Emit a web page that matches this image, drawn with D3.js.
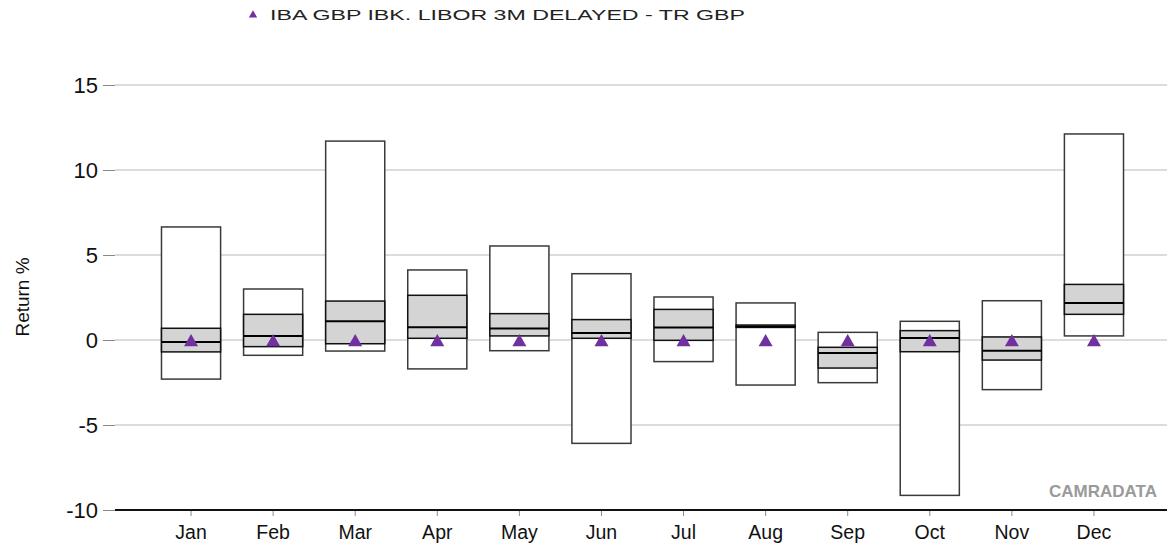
<!DOCTYPE html>
<html>
<head>
<meta charset="utf-8">
<script src="https://cdnjs.cloudflare.com/ajax/libs/d3/7.8.5/d3.min.js"></script>
<style>
  body { margin: 0; background: #fff; }
  text { font-family: "Liberation Sans", Arial, sans-serif; }
</style>
</head>
<body>
<div id="chart"></div>
<script>
// monthly return ranges (%)
var months = ["Jan", "Feb", "Mar", "Apr", "May", "Jun", "Jul", "Aug", "Sep", "Oct", "Nov", "Dec"];
var maxVals    = [6.65, 3.0, 11.7, 4.12, 5.53, 3.9, 2.53, 2.18, 0.45, 1.1, 2.31, 12.12];
var upperQ     = [0.69, 1.51, 2.29, 2.63, 1.55, 1.2, 1.8, 0.88, -0.43, 0.55, 0.18, 3.27];
var medians    = [-0.12, 0.24, 1.1, 0.75, 0.67, 0.41, 0.73, 0.8, -0.77, 0.12, -0.63, 2.18];
var lowerQ     = [-0.7, -0.39, -0.22, 0.1, 0.24, 0.1, -0.02, 0.74, -1.65, -0.69, -1.18, 1.51];
var minVals    = [-2.3, -0.9, -0.65, -1.7, -0.63, -6.08, -1.27, -2.65, -2.51, -9.14, -2.92, 0.24];
var libor      = [0.02, 0.02, 0.02, 0.02, 0.02, 0.02, 0.02, 0.02, 0.02, 0.02, 0.02, 0.02];
var yTicks = [-10, -5, 0, 5, 10, 15];
var seriesName = "IBA GBP IBK. LIBOR 3M DELAYED - TR GBP";

var width = 1167, height = 548;
var plotLeft = 115, plotRight = 1167;

var svg = d3.select("#chart")
    .append("svg")
    .attr("width", width)
    .attr("height", height);

var x = d3.scaleBand()
    .domain(months)
    .range([150, 1135])
    .paddingInner(0.28)
    .paddingOuter(0.14);

var y = d3.scaleLinear()
    .domain([-10, 15])
    .range([510, 85]);

// gridlines
svg.append("g")
    .selectAll("line")
    .data(yTicks.filter(function(d) { return d > -10; }))
    .enter()
    .append("line")
    .attr("x1", plotLeft)
    .attr("x2", plotRight)
    .attr("y1", function(d) { return y(d); })
    .attr("y2", function(d) { return y(d); })
    .attr("stroke", "#dcdcdc")
    .attr("stroke-width", 2);

// y axis (ticks + labels only), plain hyphen for negatives
var yAxis = svg.append("g")
    .attr("transform", "translate(" + plotLeft + ",0)")
    .call(d3.axisLeft(y).tickValues(yTicks).tickSize(12).tickPadding(5)
        .tickFormat(function(d) { return String(d); }));
yAxis.select(".domain").remove();
yAxis.selectAll(".tick line").attr("stroke", "#888");
yAxis.selectAll(".tick text")
    .attr("font-size", 22)
    .attr("fill", "#111")
    .style("font-family", "'Liberation Sans', Arial, sans-serif");

svg.append("text")
    .attr("transform", "translate(29," + 297 + ") rotate(-90)")
    .attr("text-anchor", "middle")
    .attr("font-size", 19)
    .attr("fill", "#111")
    .text("Return %");

// x axis
var xAxis = svg.append("g")
    .attr("transform", "translate(0," + y(-10) + ")")
    .call(d3.axisBottom(x).tickSize(6).tickPadding(9));
xAxis.select(".domain").remove();
xAxis.selectAll(".tick line").attr("stroke", "#888");
xAxis.selectAll(".tick text")
    .attr("font-size", 19.5)
    .attr("fill", "#111")
    .style("font-family", "'Liberation Sans', Arial, sans-serif");

svg.append("line")
    .attr("x1", plotLeft)
    .attr("x2", plotRight)
    .attr("y1", y(-10))
    .attr("y2", y(-10))
    .attr("stroke", "#111")
    .attr("stroke-width", 2);

// boxes
var idx = d3.range(months.length);
var boxes = svg.append("g").selectAll("g")
    .data(idx)
    .enter()
    .append("g");

boxes.append("rect")
    .attr("x", function(i) { return x(months[i]); })
    .attr("width", x.bandwidth())
    .attr("y", function(i) { return y(maxVals[i]); })
    .attr("height", function(i) { return y(minVals[i]) - y(maxVals[i]); })
    .attr("fill", "#fff")
    .attr("stroke", "#3a3a3a")
    .attr("stroke-width", 1.5);

boxes.append("rect")
    .attr("x", function(i) { return x(months[i]); })
    .attr("width", x.bandwidth())
    .attr("y", function(i) { return y(upperQ[i]); })
    .attr("height", function(i) { return y(lowerQ[i]) - y(upperQ[i]); })
    .attr("fill", "#d4d4d4")
    .attr("stroke", "#111")
    .attr("stroke-width", 1.5);

boxes.append("line")
    .attr("x1", function(i) { return x(months[i]); })
    .attr("x2", function(i) { return x(months[i]) + x.bandwidth(); })
    .attr("y1", function(i) { return y(medians[i]); })
    .attr("y2", function(i) { return y(medians[i]); })
    .attr("stroke", "#000")
    .attr("stroke-width", 2);

// benchmark triangles (marker drawn a touch low, as in the original)
var tri = d3.symbol().type(d3.symbolTriangle).size(85);
svg.append("g").selectAll("path")
    .data(idx)
    .enter()
    .append("path")
    .attr("d", tri)
    .attr("transform", function(i) {
        return "translate(" + (x(months[i]) + x.bandwidth() / 2) + "," + (y(libor[i]) + 2.5) + ")";
    })
    .attr("fill", "#7030a0");

// legend
svg.append("path")
    .attr("d", d3.symbol().type(d3.symbolTriangle).size(30))
    .attr("transform", "translate(253,15)")
    .attr("fill", "#7030a0");
svg.append("text")
    .attr("x", 270)
    .attr("y", 20)
    .attr("font-size", 15)
    .attr("fill", "#222")
    .attr("textLength", 475)
    .attr("lengthAdjust", "spacingAndGlyphs")
    .text(seriesName);

// watermark
svg.append("text")
    .attr("x", 1157)
    .attr("y", 497)
    .attr("text-anchor", "end")
    .attr("font-size", 17)
    .attr("font-weight", "bold")
    .attr("fill", "#9a9a9a")
    .text("CAMRADATA");
</script>
</body>
</html>
